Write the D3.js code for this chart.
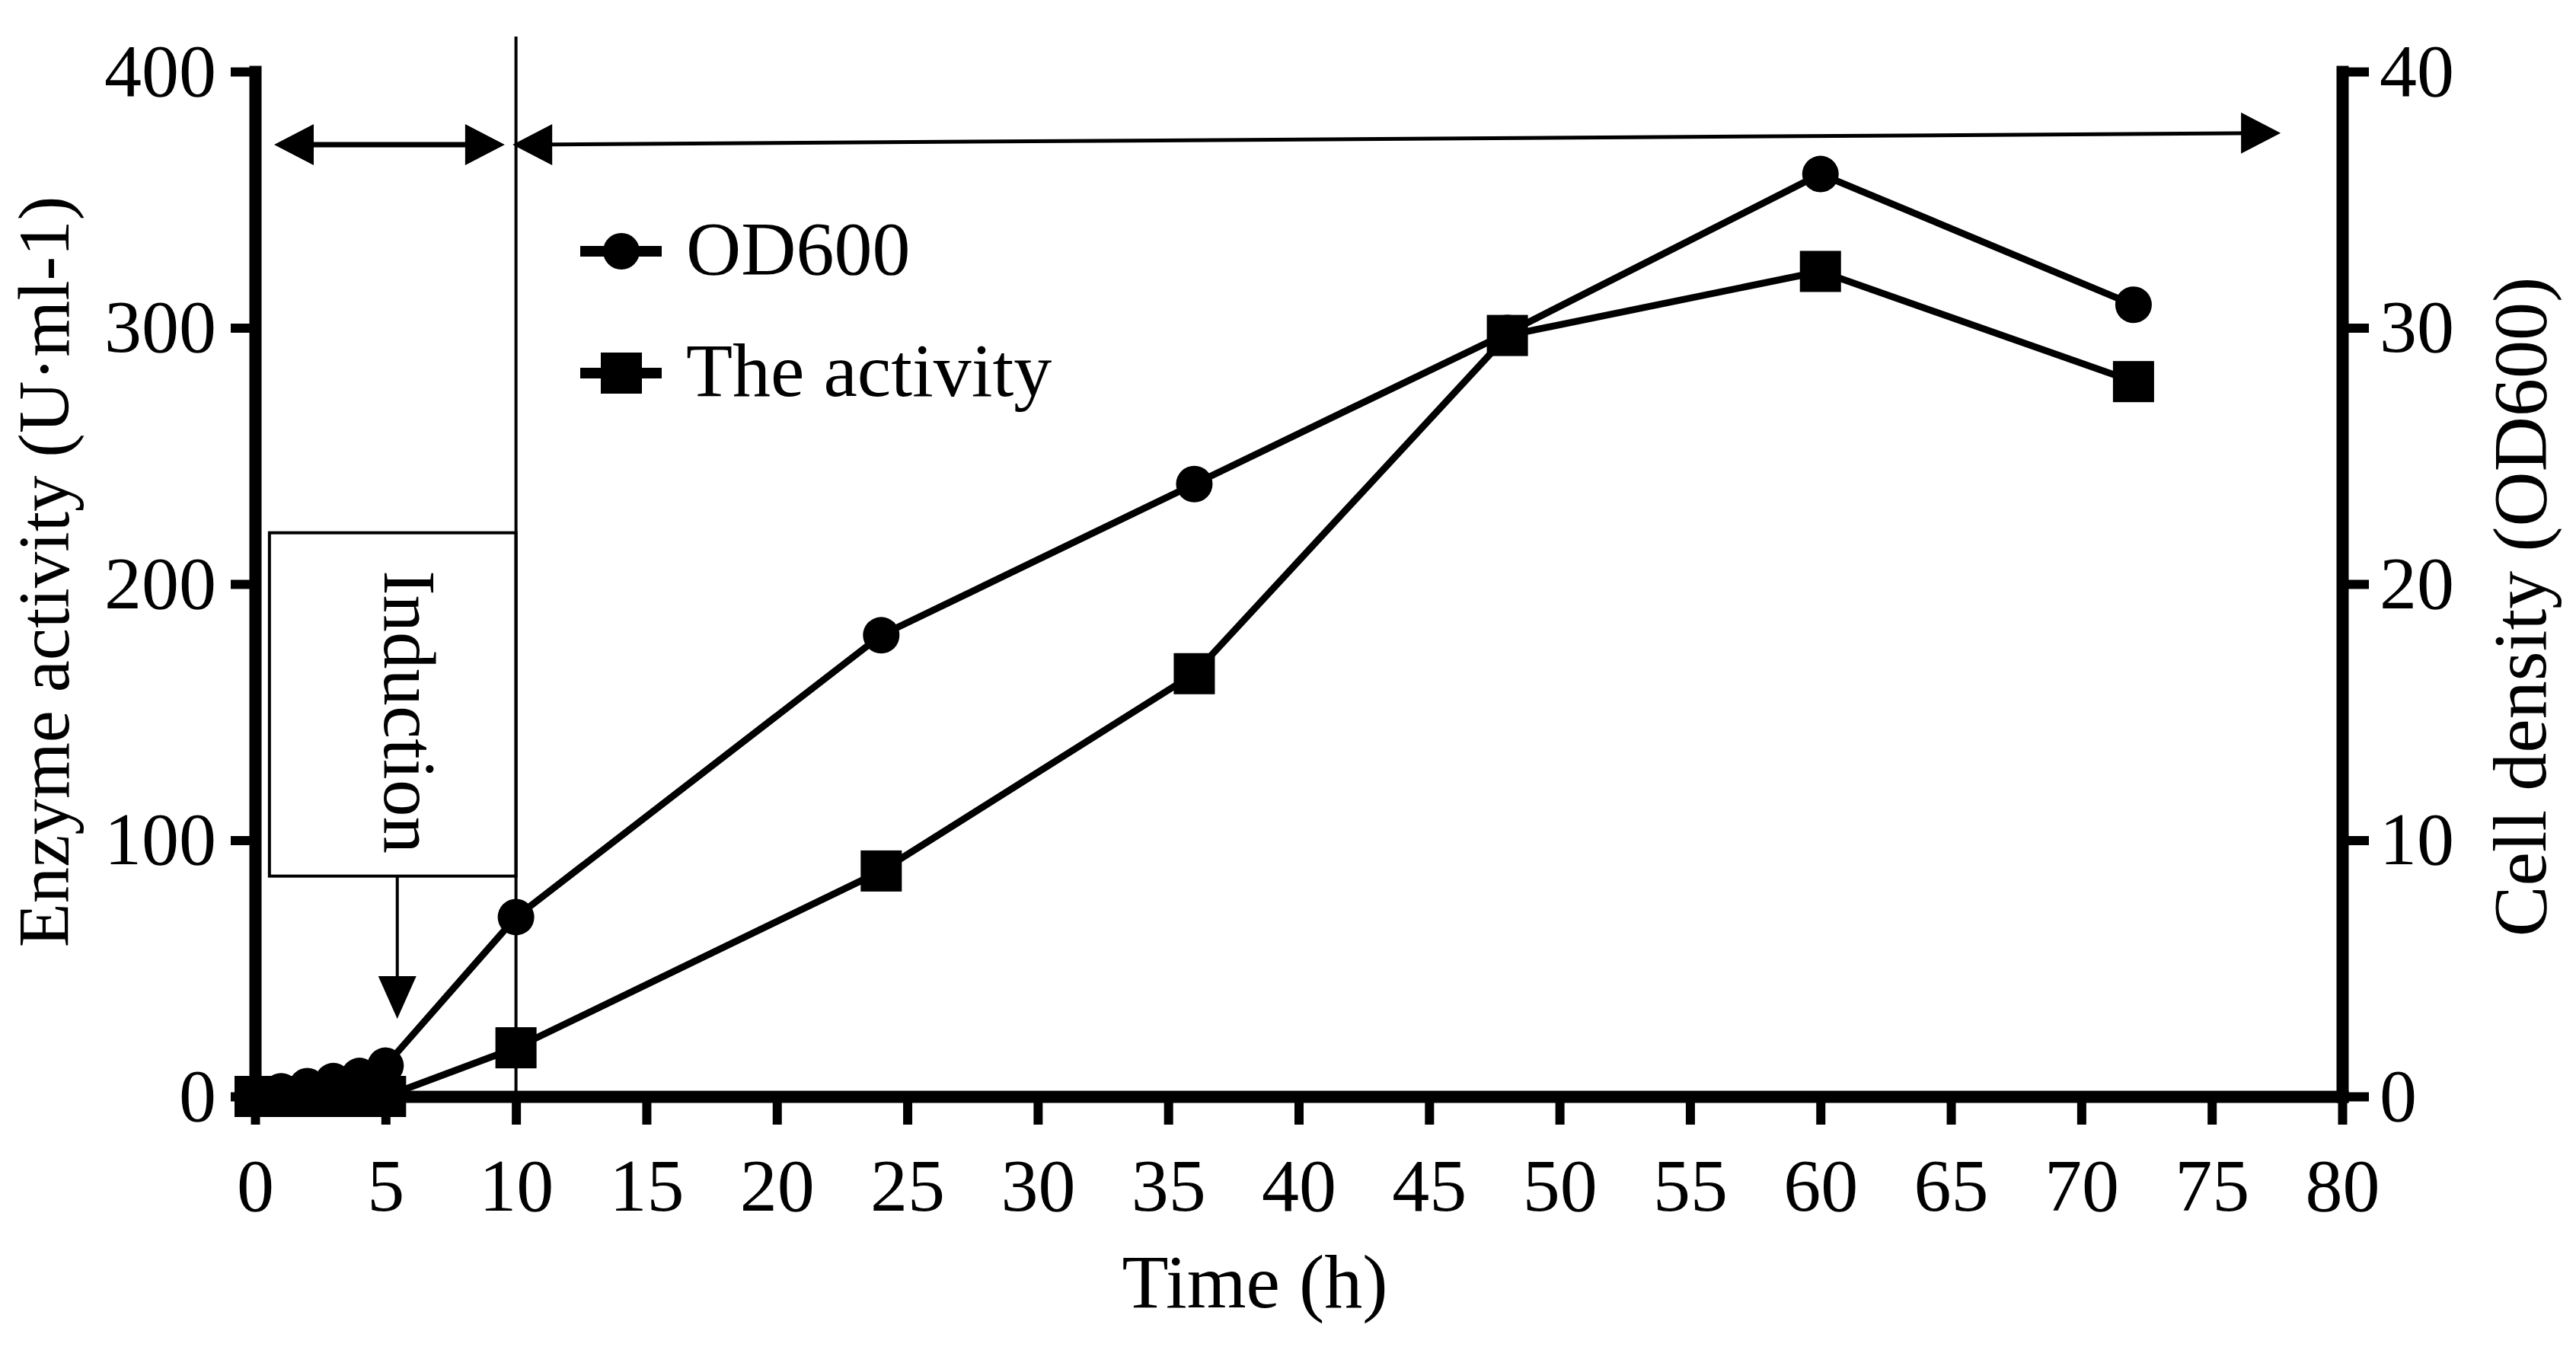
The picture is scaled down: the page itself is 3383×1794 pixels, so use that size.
<!DOCTYPE html>
<html>
<head>
<meta charset="utf-8">
<script src="https://cdn.jsdelivr.net/npm/d3@7"></script>
<style>
  html, body { margin: 0; padding: 0; background: #fff; }
  text { font-family: "Liberation Serif", "Times New Roman", serif; fill: #000; }
</style>
</head>
<body>
<script>
// ---- data ----
const times    = [0, 1, 2, 3, 4, 5, 10, 24, 36, 48, 60, 72];
const od600    = [0, 0.2, 0.4, 0.6, 0.8, 1.2, 7, 18, 23.9, 29.8, 36, 30.9];
const activity = [0, 0, 0, 0, 0, 0, 19, 88, 165, 297, 322, 279];
const xTicks   = [0,5,10,15,20,25,30,35,40,45,50,55,60,65,70,75,80];
const yLeftTicks  = [0,100,200,300,400];
const yRightTicks = [0,10,20,30,40];
const seriesNames = ["OD600", "The activity"];
const xTitle = "Time (h)";
const yLeftTitle = "Enzyme activity (U\u00b7ml-1)";
const yRightTitle = "Cell density (OD600)";
const inductionLabel = "Induction";
const inductionTime = 5.45;   // arrow points to induction
const phaseSplit = 10;         // vertical divider

const W = 3383, H = 1794;
const svg = d3.select("body").append("svg").attr("width", W).attr("height", H);

const x  = d3.scaleLinear().domain([0, 80]).range([335, 3076]);
const yL = d3.scaleLinear().domain([0, 400]).range([1440, 94]);
const yR = d3.scaleLinear().domain([0, 40]).range([1440, 94]);

// ---- annotations (behind data) ----
svg.append("line")
  .attr("x1", x(phaseSplit)).attr("x2", x(phaseSplit))
  .attr("y1", 48).attr("y2", yL(0))
  .attr("stroke", "#000").attr("stroke-width", 4);

svg.append("rect")
  .attr("x", x(0.55)).attr("y", yL(220))
  .attr("width", x(phaseSplit) - x(0.55)).attr("height", yL(86) - yL(220))
  .attr("fill", "none").attr("stroke", "#000").attr("stroke-width", 4);

svg.append("text")
  .attr("transform", `translate(505, 935) rotate(90)`)
  .attr("text-anchor", "middle")
  .attr("font-size", 97)
  .text(inductionLabel);

const ax = x(inductionTime);
svg.append("line").attr("x1", ax).attr("x2", ax).attr("y1", yL(86)).attr("y2", 1290)
  .attr("stroke", "#000").attr("stroke-width", 4);
svg.append("path")
  .attr("d", `M${ax-25},1282 L${ax+25},1282 L${ax},1338 Z`).attr("fill", "#000");

function arrowHead(tipX, tipY, dir, len, half) {
  const bx = tipX - dir * len;
  return `M${tipX},${tipY} L${bx},${tipY - half} L${bx},${tipY + half} Z`;
}
const a1 = {x1: x(0.73), x2: x(9.57), y: yL(371.5)};
svg.append("line").attr("x1", a1.x1 + 20).attr("x2", a1.x2 - 20).attr("y1", a1.y).attr("y2", a1.y)
  .attr("stroke", "#000").attr("stroke-width", 7);
svg.append("path").attr("d", arrowHead(a1.x1, a1.y, -1, 52, 27)).attr("fill", "#000");
svg.append("path").attr("d", arrowHead(a1.x2, a1.y, 1, 52, 27)).attr("fill", "#000");

const a2 = {x1: x(9.87), y1: yL(371.5), x2: x(77.64), y2: yL(376)};
svg.append("line").attr("x1", a2.x1 + 20).attr("x2", a2.x2 - 20).attr("y1", a2.y1).attr("y2", a2.y2)
  .attr("stroke", "#000").attr("stroke-width", 5);
svg.append("path").attr("d", arrowHead(a2.x1, a2.y1, -1, 52, 27)).attr("fill", "#000");
svg.append("path").attr("d", arrowHead(a2.x2, a2.y2, 1, 52, 27)).attr("fill", "#000");

// ---- axes ----
function styleAxis(g, fontSize) {
  g.select(".domain").attr("stroke-width", 16).attr("stroke-linecap", "square");
  g.selectAll(".tick line").attr("stroke-width", 12);
  g.selectAll(".tick text").attr("font-size", fontSize)
    .attr("font-family", '"Liberation Serif", "Times New Roman", serif').attr("fill", "#000");
}

const gx = svg.append("g").attr("transform", `translate(0,${yL(0)})`)
  .call(d3.axisBottom(x).tickValues(xTicks).tickSize(37).tickSizeOuter(0).tickPadding(43).tickFormat(d3.format("d")));
styleAxis(gx, 98);

const gl = svg.append("g").attr("transform", `translate(${x(0)},0)`)
  .call(d3.axisLeft(yL).tickValues(yLeftTicks).tickSize(32).tickSizeOuter(0).tickPadding(19).tickFormat(d3.format("d")));
styleAxis(gl, 98);

const gr = svg.append("g").attr("transform", `translate(${x(80)},0)`)
  .call(d3.axisRight(yR).tickValues(yRightTicks).tickSize(35).tickSizeOuter(0).tickPadding(14).tickFormat(d3.format("d")));
styleAxis(gr, 98);

// axis titles
svg.append("text").attr("x", 1648).attr("y", 1717).attr("text-anchor", "middle")
  .attr("font-size", 100).text(xTitle);
svg.append("text").attr("transform", "translate(90, 751) rotate(-90)").attr("text-anchor", "middle")
  .attr("font-size", 95).text(yLeftTitle);
svg.append("text").attr("transform", "translate(3343, 797) rotate(-90)").attr("text-anchor", "middle")
  .attr("font-size", 100).text(yRightTitle);

// ---- series ----
const odData  = times.map((t, i) => ({t, v: od600[i]}));
const actData = times.map((t, i) => ({t, v: activity[i]}));

const lineOD  = d3.line().x(d => x(d.t)).y(d => yR(d.v));
const lineAct = d3.line().x(d => x(d.t)).y(d => yL(d.v));

svg.append("path").datum(actData).attr("d", lineAct)
  .attr("fill", "none").attr("stroke", "#000").attr("stroke-width", 9).attr("stroke-linejoin", "round");
svg.append("path").datum(odData).attr("d", lineOD)
  .attr("fill", "none").attr("stroke", "#000").attr("stroke-width", 9).attr("stroke-linejoin", "round");

const sq = 54, r = 24;
svg.selectAll("rect.act").data(actData).enter().append("rect").attr("class", "act")
  .attr("x", d => x(d.t) - sq/2).attr("y", d => yL(d.v) - sq/2)
  .attr("width", sq).attr("height", sq).attr("fill", "#000");
svg.selectAll("circle.od").data(odData).enter().append("circle").attr("class", "od")
  .attr("cx", d => x(d.t)).attr("cy", d => yR(d.v)).attr("r", r).attr("fill", "#000");

// ---- legend ----
const legend = svg.append("g");
const legRows = [{name: seriesNames[0], y: 330, shape: "circle"}, {name: seriesNames[1], y: 490, shape: "square"}];
legRows.forEach(row => {
  legend.append("line").attr("x1", 762).attr("x2", 869).attr("y1", row.y).attr("y2", row.y)
    .attr("stroke", "#000").attr("stroke-width", 14);
  if (row.shape === "circle") {
    legend.append("circle").attr("cx", 816).attr("cy", row.y).attr("r", r).attr("fill", "#000");
  } else {
    legend.append("rect").attr("x", 816 - sq/2).attr("y", row.y - sq/2).attr("width", sq).attr("height", sq).attr("fill", "#000");
  }
  legend.append("text").attr("x", 901).attr("y", row.y + 30).attr("font-size", 100).text(row.name);
});
</script>
</body>
</html>
